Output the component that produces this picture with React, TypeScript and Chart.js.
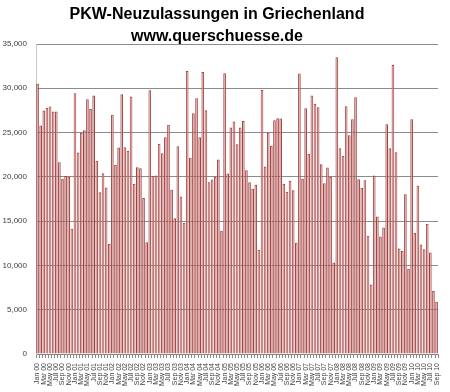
import React, { useEffect, useRef } from "react";
import { Chart, registerables } from "chart.js";

Chart.register(...registerables);

const TITLE_LINE_1 = "PKW-Neuzulassungen in Griechenland";
const TITLE_LINE_2 = "www.querschuesse.de";

const months = ["Jan", "Feb", "Mar", "Apr", "May", "Jun", "Jul", "Aug", "Sep", "Oct", "Nov", "Dec"];
const years = ["00", "01", "02", "03", "04", "05", "06", "07", "08", "09", "10"];
const lastMonthCount = 9; // data ends Sep 10

const yTicks = [0, 5000, 10000, 15000, 20000, 25000, 30000, 35000];

const v2000 = [30500, 25800, 27500, 27800, 27940, 27370, 27370, 21660, 19780, 20100, 20000, 14140];
const v2001 = [29440, 22750, 24970, 25270, 28760, 27670, 29180, 21810, 18270, 20420, 18800, 12410];
const v2002 = [27000, 21360, 23310, 29330, 23350, 22940, 29070, 19210, 21090, 20980, 17600, 12630];
const v2003 = [29780, 20120, 20150, 23730, 22670, 24480, 25870, 18540, 15340, 23460, 17780, 14810];
const v2004 = [31960, 22150, 27180, 28880, 24480, 31850, 27520, 19400, 19700, 20000, 21960, 13910];
const v2005 = [31700, 20380, 25570, 26240, 23690, 25570, 26320, 20760, 19380, 18650, 19100, 11770];
const v2006 = [29820, 21170, 25000, 23500, 26400, 26620, 26580, 19210, 18310, 19550, 18500, 12560];
const v2007 = [31660, 19780, 27750, 22600, 29180, 28240, 27860, 21430, 19290, 21060, 19970, 10340];
const v2008 = [33500, 23240, 22370, 27970, 24700, 26510, 28990, 19740, 18760, 19630, 13350, 7860];
const v2009 = [20150, 15530, 13270, 14290, 25940, 23240, 32640, 22790, 11920, 11660, 18050, 9630];
const v2010 = [26510, 13690, 18990, 12370, 11840, 14700, 11470, 7110, 5900];

const registrations = [
  ...v2000, ...v2001, ...v2002, ...v2003, ...v2004, ...v2005,
  ...v2006, ...v2007, ...v2008, ...v2009, ...v2010,
];

const categories: string[] = [];
years.forEach((y, yi) => {
  const n = yi === years.length - 1 ? lastMonthCount : months.length;
  for (let m = 0; m < n; m++) categories.push(`${months[m]} ${y}`);
});

const titlePlugin = {
  id: "customTitle",
  afterDraw(chart: any) {
    const ctx = chart.ctx;
    ctx.save();
    ctx.fillStyle = "#000";
    ctx.textAlign = "center";
    ctx.textBaseline = "middle";
    ctx.font = 'bold 16px "Liberation Sans", Arial, sans-serif';
    ctx.fillText(TITLE_LINE_1, 217, 15);
    ctx.fillText(TITLE_LINE_2, 217, 37);
    ctx.restore();
  },
};

export default function App() {
  const ref = useRef<HTMLCanvasElement | null>(null);

  useEffect(() => {
    if (!ref.current) return;
    const chart = new Chart(ref.current, {
      type: "bar",
      data: {
        labels: categories,
        datasets: [
          {
            data: registrations,
            backgroundColor: "#e4a5a3",
            borderColor: "#9e4140",
            borderWidth: 1,
            barPercentage: 0.85,
            categoryPercentage: 1.0,
          },
        ],
      },
      plugins: [titlePlugin],
      options: {
        responsive: false,
        animation: false,
        layout: { padding: { top: 44, right: 7, bottom: 0, left: 0 } },
        plugins: {
          legend: { display: false },
          title: { display: false },
          tooltip: { enabled: false },
        },
        scales: {
          x: {
            afterFit: (scale: any) => {
              scale.height = 38;
            },
            grid: {
              drawOnChartArea: false,
              drawTicks: true,
              tickLength: 4,
              color: "#888",
              offset: true,
            },
            border: { display: true, color: "#888" },
            ticks: {
              autoSkip: false,
              minRotation: 90,
              maxRotation: 90,
              padding: 5,
              color: "#404040",
              font: { size: 7, family: '"Liberation Sans", Arial, sans-serif' },
              callback: (_v: any, i: number) => (i % 2 === 0 ? categories[i] : ""),
            },
          },
          y: {
            min: 0,
            max: 35000,
            afterFit: (scale: any) => {
              scale.width = 36;
            },
            afterBuildTicks: (scale: any) => {
              scale.ticks = yTicks.map((v) => ({ value: v }));
            },
            grid: {
              drawTicks: false,
              color: "#8c8c8c",
              lineWidth: 1,
            },
            border: { display: true, color: "#c8c8c8" },
            ticks: {
              padding: 9,
              color: "#404040",
              font: { size: 8, family: '"Liberation Sans", Arial, sans-serif' },
              callback: (v: any) => Number(v).toLocaleString("en-US"),
            },
          },
        },
      },
    });
    return () => chart.destroy();
  }, []);

  return (
    <div style={{ position: "absolute", left: 0, top: 0, width: 450, height: 392, background: "#fff" }}>
      <canvas ref={ref} width={450} height={392} />
    </div>
  );
}
